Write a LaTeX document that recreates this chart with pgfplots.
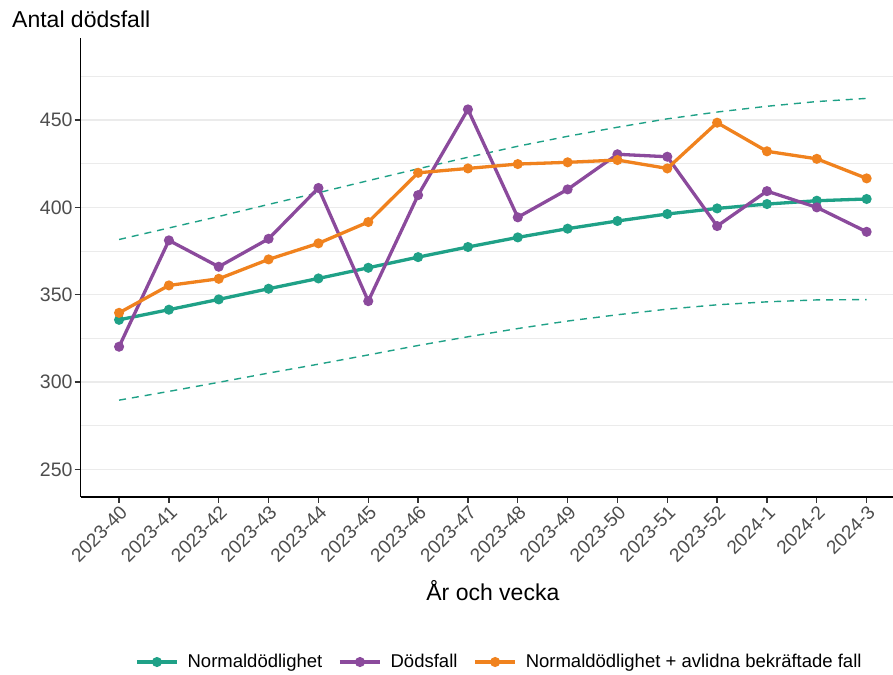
\documentclass[border=0pt]{standalone}
\usepackage{pgfplots}
\pgfplotsset{compat=1.18}
\usepackage{fontspec}
\setmainfont{Liberation Sans}

\definecolor{normcol}{HTML}{1FA187}
\definecolor{deathcol}{HTML}{8B4A9C}
\definecolor{sumcol}{HTML}{F0821E}
\definecolor{gridgray}{HTML}{EBEBEB}
\definecolor{tickgray}{HTML}{4D4D4D}

% index, normal, deaths, normal + confirmed, upper, lower
\pgfplotstableread{
x  norm   dod    sum    upp    low
0  335.6  320.2  339.6  381.6  289.6
1  341.4  381.1  355.3  388.2  294.6
2  347.3  366.0  359.1  394.8  299.8
3  353.4  382.0  370.2  401.7  305.1
4  359.3  411.1  379.4  408.4  310.2
5  365.4  346.3  391.6  415.3  315.5
6  371.5  407.0  419.8  422.1  320.9
7  377.3  456.1  422.3  428.7  325.9
8  382.8  394.3  424.8  435.0  330.6
9  387.8  410.3  425.8  440.7  334.9
10 392.2  430.4  427.1  445.9  338.5
11 396.2  429.0  422.3  450.7  341.7
12 399.4  389.3  448.5  454.6  344.2
13 401.9  409.3  432.1  457.9  345.9
14 403.8  400.0  427.8  460.6  347.0
15 404.8  386.0  416.6  462.4  347.2
}\datatable

\begin{document}
\begin{tikzpicture}
\useasboundingbox (-80.7pt,-177.3pt) rectangle (812.3pt,496.7pt);
\begin{axis}[
    at={(0pt,0pt)}, anchor=south west,
    scale only axis,
    width=824.3pt, height=458.7pt,
    xmin=-0.77, xmax=15.77,
    ymin=234.3, ymax=497,
    clip=false,
    axis lines=left,
    axis line style={-, line width=1.6pt, black},
    xtick={0,...,15},
    xticklabels={2023-40,2023-41,2023-42,2023-43,2023-44,2023-45,2023-46,2023-47,2023-48,2023-49,2023-50,2023-51,2023-52,2024-1,2024-2,2024-3},
    ytick={250,300,350,400,450},
    minor ytick={275,325,375,425,475},
    ymajorgrids, yminorgrids,
    major grid style={draw=gridgray, line width=1.5pt},
    minor grid style={draw=gridgray, line width=1pt},
    tick align=outside,
    major tick length=6pt,
    minor tick length=0pt,
    tick style={line width=1.3pt, color=black!80},
    x tick label style={rotate=45, anchor=north east, inner sep=1pt,
        font=\fontsize{19}{19}\selectfont, text=tickgray},
    y tick label style={inner sep=2pt, font=\fontsize{19.5}{19.5}\selectfont, text=tickgray},
    /pgf/number format/assume math mode=true,
    legend style={at={(0.508,-0.3604)}, anchor=center, draw=none, fill=none,
        legend columns=-1,
        font=\fontsize{18.5}{18.5}\selectfont,
        /tikz/every even column/.append style={column sep=14pt}},
    legend image code/.code={
        \draw[mark repeat=2, mark phase=2, #1] plot coordinates {(0pt,0pt) (20pt,0pt) (40pt,0pt)};},
  ]
  \addplot[forget plot, normcol, line width=1.4pt, dash pattern=on 7pt off 6pt] table[x=x, y=upp] {\datatable};
  \addplot[forget plot, normcol, line width=1.4pt, dash pattern=on 7pt off 6pt] table[x=x, y=low] {\datatable};

  \addplot[normcol, line width=3.3pt, mark=*, mark size=3.3pt] table[x=x, y=norm] {\datatable};
  \addlegendentry{\hspace{7pt}Normaldödlighet}
  \addplot[deathcol, line width=3.3pt, mark=*, mark size=3.3pt] table[x=x, y=dod] {\datatable};
  \addlegendentry{\hspace{7pt}Dödsfall}
  \addplot[sumcol, line width=3.3pt, mark=*, mark size=3.3pt] table[x=x, y=sum] {\datatable};
  \addlegendentry{\hspace{7pt}Normaldödlighet + avlidna bekräftade fall}

  \node[anchor=base west, inner sep=0pt, font=\fontsize{23}{23}\selectfont]
    at (axis description cs:0,1) [xshift=-68.7pt, yshift=10pt] {Antal dödsfall};
  \node[anchor=base, inner sep=0pt, font=\fontsize{23}{23}\selectfont]
    at (axis description cs:0.5,0) [yshift=-103.3pt] {År och vecka};
\end{axis}
\end{tikzpicture}
\end{document}
